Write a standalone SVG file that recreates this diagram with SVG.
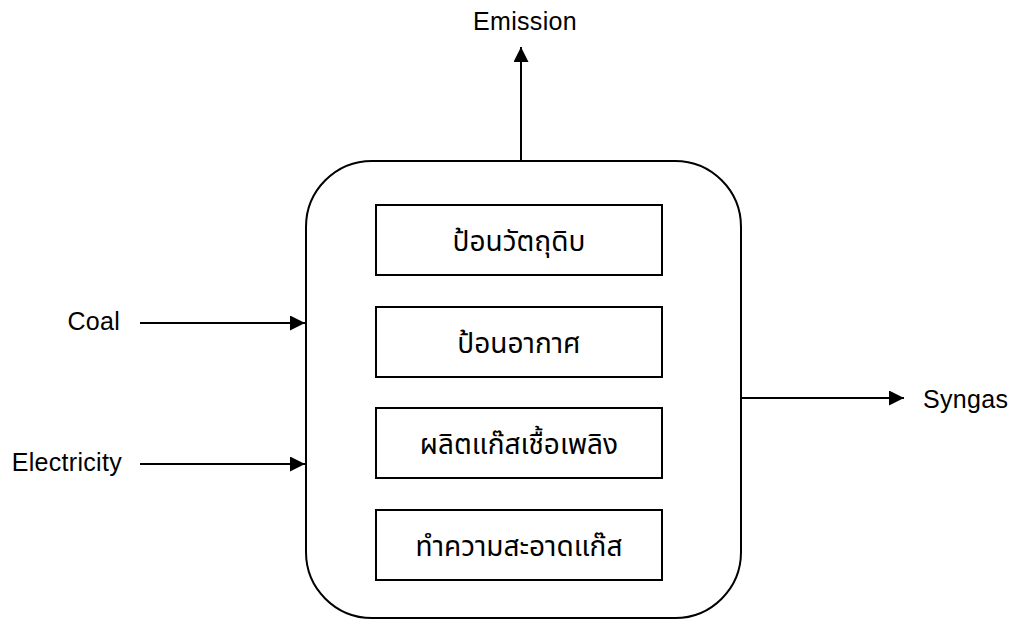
<svg xmlns="http://www.w3.org/2000/svg" width="1014" height="621" viewBox="0 0 1014 621">
<defs>
<style>
.lbl{font-family:"Liberation Sans",Arial,sans-serif;font-size:25px;letter-spacing:0.3px;fill:#000}
.th{font-family:"Noto Sans Thai","Tahoma","Liberation Sans",sans-serif;font-size:28px;fill:#000;text-anchor:middle}
.box{fill:#fff;stroke:#000;stroke-width:2}
.conn{stroke:#000;stroke-width:2;fill:none}
</style>
<marker id="ah" viewBox="0 0 15 15" refX="15" refY="7.5" markerWidth="15" markerHeight="15" orient="auto" markerUnits="userSpaceOnUse">
<path d="M0,0 L15,7.5 L0,15 Z" fill="#000"/>
</marker>
</defs>
<rect width="1014" height="621" fill="#fff"/>
<g id="process">
<rect class="box" x="306" y="161" width="435" height="457" rx="66" ry="66"/>
</g>
<g id="step1"><rect class="box" x="376" y="205" width="286" height="70"/><text class="th" x="519" y="251">ป้อนวัตถุดิบ</text></g>
<g id="step2"><rect class="box" x="376" y="307" width="286" height="70"/><text class="th" x="519" y="353">ป้อนอากาศ</text></g>
<g id="step3"><rect class="box" x="376" y="408" width="286" height="70"/><text class="th" x="519" y="454">ผลิตแก๊สเชื้อเพลิง</text></g>
<g id="step4"><rect class="box" x="376" y="510" width="286" height="70"/><text class="th" x="519" y="556">ทำความสะอาดแก๊ส</text></g>
<g id="labels">
<text class="lbl" x="120" y="330" text-anchor="end">Coal</text>
<text class="lbl" x="122" y="471" text-anchor="end">Electricity</text>
<text class="lbl" x="923" y="408">Syngas</text>
<text class="lbl" x="525" y="30" text-anchor="middle">Emission</text>
</g>
<g id="connectors">
<line class="conn" x1="140" y1="323" x2="305" y2="323" marker-end="url(#ah)"/>
<line class="conn" x1="140" y1="464" x2="305" y2="464" marker-end="url(#ah)"/>
<line class="conn" x1="741" y1="398" x2="904" y2="398" marker-end="url(#ah)"/>
<line class="conn" x1="521" y1="161" x2="521" y2="47" marker-end="url(#ah)"/>
</g>
</svg>
